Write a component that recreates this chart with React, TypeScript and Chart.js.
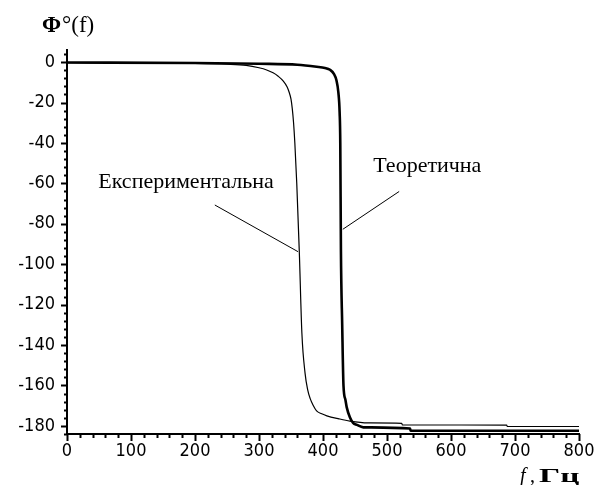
import React, { useEffect, useRef } from 'react';
import { Chart, registerables } from 'chart.js';

Chart.register(...registerables);

// Experimental phase response (thin line)
const expFreq = [0, 100, 200, 250, 280, 300, 312, 322, 330, 338, 344, 347, 350, 352, 354, 356, 359, 363, 367, 372, 376, 380, 385, 390, 398, 406, 425, 442, 470, 523, 524, 687, 688, 800];
const expPhase = [-0.3, -0.4, -0.6, -1.0, -1.6, -2.8, -3.9, -5.3, -7.0, -9.4, -12.3, -14.8, -18.3, -23, -30, -40, -60, -94, -134, -154, -162, -166.5, -170, -172.6, -174, -175, -176.5, -177.6, -178.5, -178.7, -179.5, -179.6, -180.3, -180.3];

// Theoretical phase response (thick line)
const theoFreq = [0, 200, 300, 360, 390, 403, 411, 417, 421, 424, 426, 427, 428, 430, 432, 435, 437, 442, 447, 453, 463, 536, 537, 800];
const theoPhase = [-0.2, -0.4, -0.8, -1.3, -2.3, -2.9, -3.8, -5.8, -9.0, -15, -25, -40, -93, -130, -160, -167, -170.7, -175.7, -178.5, -179.5, -180.7, -181.3, -182.4, -182.4];

const xRange = [0, 800];
const yRange = [-184, 6];
const xMajorStep = 100;
const xMinorStep = 20;
const yMajorStep = 20;
const yMinorStep = 4;

const expLabel = 'Експериментальна';
const theoLabel = 'Теоретична';
const yTitleBold = 'Φ';
const yTitleRest = '°(f)';
const xTitleItalic = 'f';
const xTitleSep = ',';
const xTitleBold = 'Гц';

// annotation anchors in data coordinates [f, phase]
const expLabelAt = [186, -59.2];
const expLeader = [[231, -70.7], [361, -93.8]];
const theoLabelAt = [563, -51.5];
const theoLeader = [[519, -64], [431, -82.7]];

const SERIF = "'Liberation Serif', 'Times New Roman', serif";
const NARROW = "'Liberation Sans Narrow', 'Arial Narrow', 'DejaVu Sans Condensed', sans-serif";

const decorPlugin = {
  id: 'decor',
  afterDraw(chart: any) {
    const ctx = chart.ctx;
    const xs = chart.scales.x;
    const ys = chart.scales.y;
    const area = chart.chartArea;
    ctx.save();
    ctx.strokeStyle = '#000';
    // y ticks
    for (let v = yRange[0]; v <= yRange[1]; v += yMinorStep) {
      const major = Math.abs(v % yMajorStep) < 1e-6;
      const py = Math.round(ys.getPixelForValue(v)) + 0.5;
      ctx.lineWidth = 2;
      ctx.beginPath();
      ctx.moveTo(area.left - (major ? 6 : 3), py);
      ctx.lineTo(area.left, py);
      ctx.stroke();
    }
    // x ticks
    for (let v = xRange[0]; v <= xRange[1]; v += xMinorStep) {
      const major = v % xMajorStep === 0;
      const px = Math.round(xs.getPixelForValue(v)) + 0.5;
      ctx.lineWidth = 2;
      ctx.beginPath();
      ctx.moveTo(px, area.bottom);
      ctx.lineTo(px, area.bottom + (major ? 7 : 4));
      ctx.stroke();
    }
    // leader lines
    ctx.lineWidth = 1;
    const line = (seg: number[][]) => {
      ctx.beginPath();
      ctx.moveTo(xs.getPixelForValue(seg[0][0]), ys.getPixelForValue(seg[0][1]));
      ctx.lineTo(xs.getPixelForValue(seg[1][0]), ys.getPixelForValue(seg[1][1]));
      ctx.stroke();
    };
    line(expLeader);
    line(theoLeader);
    // labels
    ctx.fillStyle = '#000';
    ctx.textAlign = 'center';
    ctx.textBaseline = 'middle';
    ctx.font = `22px ${SERIF}`;
    ctx.fillText(expLabel, xs.getPixelForValue(expLabelAt[0]), ys.getPixelForValue(expLabelAt[1]));
    ctx.fillText(theoLabel, xs.getPixelForValue(theoLabelAt[0]), ys.getPixelForValue(theoLabelAt[1]));
    // y title
    ctx.textAlign = 'left';
    ctx.textBaseline = 'alphabetic';
    ctx.font = `bold 23px ${SERIF}`;
    ctx.fillText(yTitleBold, 42, 32);
    const w1 = ctx.measureText(yTitleBold).width;
    ctx.font = `23px ${SERIF}`;
    ctx.fillText(yTitleRest, 42 + w1 + 1, 32);
    // x title
    ctx.font = `italic 20px ${SERIF}`;
    ctx.fillText(xTitleItalic, 520, 482);
    ctx.font = `20px ${SERIF}`;
    ctx.fillText(xTitleSep, 530, 482);
    ctx.font = `bold 19px ${SERIF}`;
    ctx.translate(539, 482);
    ctx.scale(1.75, 1);
    ctx.fillText(xTitleBold, 0, 0);
    ctx.restore();
  },
};

export default function App() {
  const ref = useRef<HTMLCanvasElement | null>(null);
  useEffect(() => {
    if (!ref.current) return;
    const chart = new Chart(ref.current, {
      type: 'line',
      data: {
        datasets: [
          {
            label: 'Експериментальна',
            data: expFreq.map((f, i) => ({ x: f, y: expPhase[i] })),
            borderColor: '#000',
            borderWidth: 1.2,
            pointRadius: 0,
            cubicInterpolationMode: 'monotone',
            fill: false,
          },
          {
            label: 'Теоретична',
            data: theoFreq.map((f, i) => ({ x: f, y: theoPhase[i] })),
            borderColor: '#000',
            borderWidth: 2.6,
            pointRadius: 0,
            cubicInterpolationMode: 'monotone',
            fill: false,
          },
        ],
      },
      options: {
        animation: false,
        responsive: true,
        maintainAspectRatio: false,
        layout: { padding: { left: 0, top: 50, right: 31, bottom: 0 } },
        plugins: { legend: { display: false }, tooltip: { enabled: false } },
        scales: {
          x: {
            type: 'linear',
            min: xRange[0],
            max: xRange[1],
            grid: { display: false, drawTicks: false, tickLength: 0 },
            border: { display: true, color: '#000', width: 2 },
            ticks: {
              stepSize: xMajorStep,
              color: '#000',
              padding: 7,
              maxRotation: 0,
              autoSkip: false,
              font: { family: NARROW, size: 18 },
            },
            afterFit: (s: any) => { s.height = 51; },
          },
          y: {
            type: 'linear',
            min: yRange[0],
            max: yRange[1],
            grid: { display: false, drawTicks: false, tickLength: 0 },
            border: { display: true, color: '#000', width: 2 },
            ticks: {
              stepSize: yMajorStep,
              includeBounds: false,
              color: '#000',
              padding: 12,
              autoSkip: false,
              font: { family: NARROW, size: 18 },
            },
            afterFit: (s: any) => { s.width = 67; },
          },
        },
      },
      plugins: [decorPlugin],
    } as any);
    return () => chart.destroy();
  }, []);
  return (
    <div style={{ position: 'absolute', left: 0, top: 0, width: 610, height: 485, background: '#fff' }}>
      <canvas ref={ref} />
    </div>
  );
}
